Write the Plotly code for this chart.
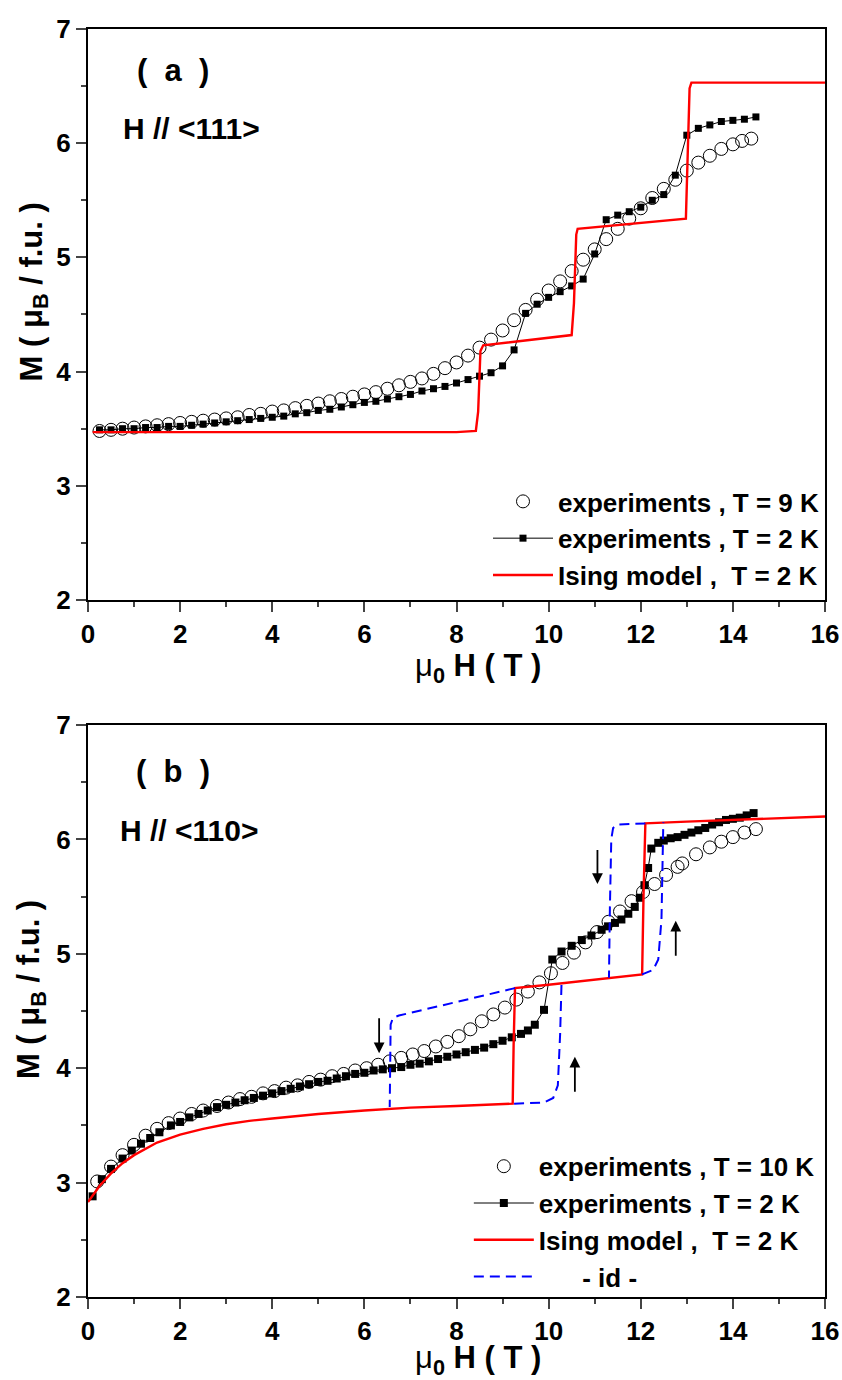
import plotly.graph_objects as go

# ---------------- Panel (a) data : H // <111> ----------------
a_x9 = [0.25, 0.5, 0.75, 1.0, 1.25, 1.5, 1.75, 2.0, 2.25, 2.5, 2.75, 3.0, 3.25, 3.5, 3.75,
        4.0, 4.25, 4.5, 4.75, 5.0, 5.25, 5.5, 5.75, 6.0, 6.25, 6.5, 6.75, 7.0, 7.25, 7.5,
        7.75, 8.0, 8.25, 8.5, 8.75, 9.0, 9.25, 9.5, 9.75, 10.0, 10.25, 10.5, 10.75, 11.0,
        11.25, 11.5, 11.75, 12.0, 12.25, 12.5, 12.75, 13.0, 13.25, 13.5, 13.75, 14.0, 14.2, 14.4]
a_m9 = [3.48, 3.49, 3.50, 3.51, 3.52, 3.53, 3.54, 3.55, 3.56, 3.57, 3.58, 3.59, 3.60, 3.62, 3.63,
        3.65, 3.66, 3.68, 3.70, 3.72, 3.74, 3.76, 3.78, 3.80, 3.82, 3.85, 3.88, 3.91, 3.94, 3.98,
        4.03, 4.08, 4.14, 4.21, 4.28, 4.36, 4.45, 4.54, 4.63, 4.71, 4.79, 4.88, 4.98, 5.07,
        5.16, 5.25, 5.34, 5.43, 5.52, 5.60, 5.68, 5.76, 5.83, 5.89, 5.95, 5.99, 6.02, 6.04]

a_x2 = [0.25, 0.5, 0.75, 1.0, 1.25, 1.5, 1.75, 2.0, 2.25, 2.5, 2.75, 3.0, 3.25, 3.5, 3.75,
        4.0, 4.25, 4.5, 4.75, 5.0, 5.25, 5.5, 5.75, 6.0, 6.25, 6.5, 6.75, 7.0, 7.25, 7.5,
        7.75, 8.0, 8.25, 8.5, 8.75, 9.0, 9.25, 9.5, 9.75, 10.0, 10.25, 10.5, 10.75, 11.0,
        11.25, 11.5, 11.75, 12.0, 12.25, 12.5, 12.75, 13.0, 13.25, 13.5, 13.75, 14.0, 14.25, 14.5]
a_m2 = [3.49, 3.49, 3.50, 3.50, 3.51, 3.51, 3.52, 3.52, 3.53, 3.54, 3.55, 3.56, 3.57, 3.58, 3.59,
        3.60, 3.61, 3.63, 3.64, 3.66, 3.67, 3.69, 3.71, 3.73, 3.74, 3.76, 3.78, 3.80, 3.83, 3.85,
        3.87, 3.90, 3.93, 3.96, 3.99, 4.05, 4.19, 4.51, 4.59, 4.65, 4.70, 4.75, 4.81, 5.03,
        5.33, 5.37, 5.40, 5.44, 5.50, 5.55, 5.72, 6.07, 6.13, 6.16, 6.19, 6.20, 6.21, 6.23]

a_xI = [0.1, 4.0, 8.0, 8.42, 8.47, 8.52, 8.58, 10.5, 10.55, 10.6, 10.63, 12.98, 13.02, 13.06, 13.1, 16.0]
a_mI = [3.47, 3.47, 3.47, 3.48, 3.65, 4.18, 4.23, 4.32, 4.6, 5.2, 5.25, 5.34, 5.9, 6.48, 6.53, 6.53]

# ---------------- Panel (b) data : H // <110> ----------------
b_x10 = [0.2, 0.5, 0.75, 1.0, 1.25, 1.5, 1.75, 2.0, 2.25, 2.5, 2.8, 3.05, 3.3, 3.55, 3.8, 4.05,
         4.3, 4.55, 4.8, 5.05, 5.3, 5.55, 5.8, 6.05, 6.3, 6.55, 6.8, 7.05, 7.3, 7.55, 7.8, 8.05,
         8.3, 8.55, 8.8, 9.05, 9.3, 9.55, 9.8, 10.05, 10.3, 10.55, 10.8, 11.05, 11.3, 11.55,
         11.8, 12.05, 12.3, 12.55, 12.8, 12.9, 13.2, 13.5, 13.75, 14.0, 14.25, 14.5]
b_m10 = [3.01, 3.14, 3.24, 3.33, 3.41, 3.47, 3.52, 3.56, 3.60, 3.63, 3.67, 3.70, 3.73, 3.75, 3.78, 3.80,
         3.83, 3.85, 3.88, 3.90, 3.93, 3.95, 3.98, 4.00, 4.03, 4.06, 4.09, 4.12, 4.15, 4.19, 4.23, 4.28,
         4.34, 4.41, 4.47, 4.53, 4.60, 4.67, 4.75, 4.83, 4.92, 5.01, 5.10, 5.19, 5.28, 5.37,
         5.46, 5.54, 5.61, 5.69, 5.76, 5.79, 5.87, 5.93, 5.98, 6.02, 6.06, 6.09]

b_x2 = [0.1, 0.3, 0.5, 0.75, 0.95, 1.15, 1.35, 1.55, 1.8, 2.0, 2.2, 2.4, 2.6, 2.8, 3.0, 3.2, 3.4,
        3.6, 3.8, 4.0, 4.2, 4.4, 4.6, 4.8, 5.0, 5.2, 5.4, 5.6, 5.8, 6.0, 6.2, 6.4, 6.6, 6.8, 7.0,
        7.2, 7.4, 7.6, 7.8, 8.0, 8.2, 8.4, 8.6, 8.8, 9.0, 9.2, 9.4, 9.55, 9.7, 9.9, 10.08, 10.28,
        10.5, 10.72, 10.93, 11.15, 11.29, 11.44, 11.58, 11.73, 11.87, 11.98, 12.08, 12.16, 12.23,
        12.38, 12.5, 12.65, 12.8, 12.95, 13.1, 13.25, 13.4, 13.55, 13.7, 13.85, 14.0, 14.15, 14.3, 14.45]
b_m2 = [2.88, 3.03, 3.12, 3.21, 3.28, 3.34, 3.39, 3.44, 3.50, 3.53, 3.57, 3.60, 3.63, 3.66, 3.68, 3.70, 3.72,
        3.74, 3.76, 3.78, 3.80, 3.82, 3.84, 3.86, 3.88, 3.89, 3.91, 3.93, 3.95, 3.96, 3.98, 3.99, 4.00, 4.01, 4.03,
        4.04, 4.06, 4.08, 4.10, 4.12, 4.14, 4.16, 4.18, 4.21, 4.24, 4.27, 4.30, 4.33, 4.38, 4.51, 4.95, 5.02,
        5.07, 5.12, 5.16, 5.21, 5.24, 5.27, 5.30, 5.35, 5.41, 5.49, 5.60, 5.75, 5.92,
        5.97, 5.99, 6.01, 6.02, 6.04, 6.06, 6.08, 6.10, 6.13, 6.15, 6.17, 6.18, 6.19, 6.21, 6.23]

b_xI = [0.0, 0.25, 0.5, 0.75, 1.0, 1.5, 2.0, 2.5, 3.0, 3.5, 4.0, 5.0, 6.0, 7.0, 8.0, 9.0, 9.22,
        9.24, 9.27, 10.0, 11.0, 12.03, 12.06, 12.1, 13.0, 14.0, 15.0, 16.0]
b_mI = [2.83, 2.97, 3.08, 3.17, 3.24, 3.35, 3.42, 3.47, 3.51, 3.54, 3.56, 3.60, 3.63, 3.655, 3.67, 3.685, 3.69,
        4.20, 4.70, 4.73, 4.775, 4.82, 5.50, 6.14, 6.155, 6.17, 6.185, 6.20]

# hysteresis branches of the model (None separates branches)
b_xid = [9.27, 6.75, 6.62, 6.57, 6.56, 6.55, None,
         9.25, 9.9, 10.1, 10.2, 10.25, 10.28, None,
         12.1, 11.5, 11.4, 11.36, 11.33, 11.31, None,
         12.03, 12.27, 12.38, 12.45, 12.49]
b_mid = [4.70, 4.46, 4.44, 4.38, 4.00, 3.66, None,
         3.69, 3.70, 3.74, 3.85, 4.30, 4.74, None,
         6.14, 6.13, 6.10, 6.00, 5.40, 4.79, None,
         4.82, 4.86, 4.95, 5.30, 6.15]

# arrows (x, tail y, head y)
arrow_x = [6.32, 11.06, 10.57, 12.76]
arrow_y0 = [4.45, 5.92, 3.78, 4.97]
arrow_y1 = [4.13, 5.61, 4.10, 5.29]

FONT = "Liberation Sans, Arial, sans-serif"
NB = "\u00a0"

fig = go.Figure()

def add_panel(xa, ya, leg, x9, m9, name9, x2, m2, xI, mI, sq):
    fig.add_trace(go.Scatter(x=x9, y=m9, mode="markers", name=name9, xaxis=xa, yaxis=ya, legend=leg,
                             marker=dict(symbol="circle-open", size=13, color="black",
                                         line=dict(width=1, color="black"))))
    fig.add_trace(go.Scatter(x=x2, y=m2, mode="lines+markers", name="experiments , T = 2 K",
                             xaxis=xa, yaxis=ya, legend=leg,
                             line=dict(color="black", width=1),
                             marker=dict(symbol="square", size=sq, color="black")))
    fig.add_trace(go.Scatter(x=xI, y=mI, mode="lines", name="Ising model ,  T = 2 K",
                             xaxis=xa, yaxis=ya, legend=leg,
                             line=dict(color="#ff0000", width=2.4)))

add_panel("x", "y", "legend", a_x9, a_m9, "experiments , T = 9 K", a_x2, a_m2, a_xI, a_mI, 7)
add_panel("x2", "y2", "legend2", b_x10, b_m10, "experiments , T = 10 K", b_x2, b_m2, b_xI, b_mI, 8)
fig.add_trace(go.Scatter(x=b_xid, y=b_mid, mode="lines", name=NB * 6 + "- id -",
                         xaxis="x2", yaxis="y2", legend="legend2", connectgaps=False,
                         line=dict(color="#0000ff", width=2, dash="10px,6px")))

for ax, ay0, ay1 in zip(arrow_x, arrow_y0, arrow_y1):
    fig.add_annotation(x=ax, y=ay1, ax=ax, ay=ay0, xref="x2", yref="y2", axref="x2", ayref="y2",
                       showarrow=True, arrowhead=2, arrowsize=1.2, arrowwidth=1.8, arrowcolor="black", text="")

# panel labels
fig.add_annotation(x=1.85, y=6.64, xref="x", yref="y", text="(" + NB + " a " + NB + ")", showarrow=False,
                   font=dict(family=FONT, size=31, color="black", weight="bold"))
fig.add_annotation(x=0.72, y=6.13, xref="x", yref="y", text="H // <111>", showarrow=False, xanchor="left",
                   font=dict(family=FONT, size=30, color="black", weight="bold"))
fig.add_annotation(x=1.85, y=6.59, xref="x2", yref="y2", text="(" + NB + " b " + NB + ")", showarrow=False,
                   font=dict(family=FONT, size=31, color="black", weight="bold"))
fig.add_annotation(x=0.65, y=6.08, xref="x2", yref="y2", text="H // <110>", showarrow=False, xanchor="left",
                   font=dict(family=FONT, size=30, color="black", weight="bold"))

# axis titles (placed as annotations relative to each panel's axis domain)
titlefont = dict(family=FONT, size=31, color="black", weight="bold")
xtitle = "<span style='font-weight:normal'>\u03bc</span><sub>0</sub> H ( T )"
ytitle = "M ( \u03bc<sub>B</sub> / f.u. )"
for xr, yr, ty, yx, yy in [("x domain", "y domain", -0.119, -0.073, 0.539),
                           ("x2 domain", "y2 domain", -0.111, -0.077, 0.537)]:
    fig.add_annotation(x=0.529, y=ty, xref=xr, yref=yr, text=xtitle, showarrow=False,
                       xanchor="center", yanchor="middle", font=titlefont)
    fig.add_annotation(x=yx, y=yy, xref=xr, yref=yr, text=ytitle, showarrow=False, textangle=-90,
                       xanchor="center", yanchor="middle", font=dict(titlefont, size=31))

tickfont = dict(family=FONT, size=26, color="black", weight="bold")

def xax(domain_anchor):
    return dict(range=[0, 16], dtick=2, tick0=0, ticks="outside", ticklen=10, tickwidth=2,
                minor=dict(dtick=1, ticks="outside", ticklen=5, tickwidth=2, showgrid=False),
                showline=True, linewidth=2, linecolor="black", mirror=True, showgrid=False,
                zeroline=False, tickfont=tickfont, anchor=domain_anchor, automargin=False)

def yax(domain, anchor):
    return dict(range=[2, 7], dtick=1, tick0=2, ticks="outside", ticklen=10, tickwidth=2,
                minor=dict(dtick=0.5, ticks="outside", ticklen=5, tickwidth=2, showgrid=False),
                showline=True, linewidth=2, linecolor="black", mirror=True, showgrid=False,
                zeroline=False, tickfont=tickfont, domain=domain, anchor=anchor, automargin=False)

def xtop(over, anchor):
    return dict(overlaying=over, side="top", anchor=anchor, range=[0, 16], dtick=1, tick0=0,
                ticks="inside", ticklen=8, tickwidth=2, showticklabels=False, showline=False,
                showgrid=False, zeroline=False, automargin=False)

def yright(over, anchor):
    return dict(overlaying=over, side="right", anchor=anchor, range=[2, 7], dtick=0.5, tick0=2,
                ticks="inside", ticklen=9, tickwidth=2, showticklabels=False, showline=False,
                showgrid=False, zeroline=False, automargin=False)

legend_common = dict(bgcolor="rgba(0,0,0,0)", borderwidth=0, xanchor="right", yanchor="bottom",
                     itemwidth=60, font=dict(family=FONT, size=26, color="black", weight="bold"),
                     tracegroupgap=0, itemclick=False)

fig.update_layout(
    width=842, height=1380,
    margin=dict(l=88, r=17, t=29, b=83, autoexpand=False),
    paper_bgcolor="white", plot_bgcolor="white",
    showlegend=True,
    xaxis=xax("y"),
    yaxis=yax([0.5497, 1.0], "x"),
    xaxis2=xax("y2"),
    yaxis2=yax([0.0, 0.4511], "x2"),
    xaxis3=xtop("x", "y"),
    yaxis3=yright("y", "x"),
    xaxis4=xtop("x2", "y2"),
    yaxis4=yright("y2", "x2"),
    legend=dict(x=1.0, y=0.5505, **legend_common),
    legend2=dict(x=0.993, y=-0.003, **legend_common),
)

fig.write_html("out.html")
